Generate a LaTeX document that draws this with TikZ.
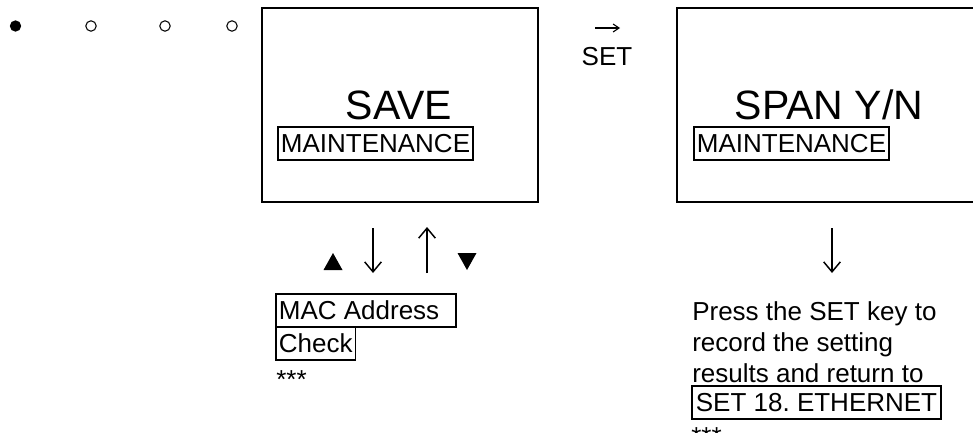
\documentclass[tikz,border=0pt]{standalone}
\usepackage{fontspec}
\setmainfont{Liberation Sans}
\usetikzlibrary{arrows.meta}
\frenchspacing
\newcommand\fsnorm{\fontsize{19.5pt}{23pt}\selectfont}
\newcommand\fsbig{\fontsize{30.75pt}{36pt}\selectfont}
\tikzset{
  screen/.style={draw, line width=1.6pt, minimum width=#1, minimum height=145.5pt, inner sep=0pt},
  tbox/.style={draw, line width=1.3pt, inner xsep=2.25pt, inner ysep=1.5pt,
    text height=17.6pt, text depth=4.1pt, font=\fsnorm, anchor=south west},
  plain/.style={inner sep=0pt, font=\fsnorm, anchor=base west},
  bigtxt/.style={inner sep=0pt, font=\fsbig, anchor=base},
  keyarrow/.style={line width=1pt, -{Straight Barb[length=7.5pt, width=12.5pt, line width=1.1pt]}},
  smallarrow/.style={line width=0.8pt, -{Straight Barb[length=4.5pt, width=6pt, line width=0.8pt]}},
  tri/.style={fill=black}
}
\begin{document}
\begin{tikzpicture}[x=0.75pt, y=-0.75pt]
\useasboundingbox (0,0) rectangle (973,432);
\clip (0,0) rectangle (973,432);
% progress dots
\node[circle, fill=black, minimum size=8.5pt, inner sep=0pt] (d1) at (15.5,26) {};
\node[circle, draw, line width=0.8pt, minimum size=7.8pt, inner sep=0pt] (d2) at (91,26) {};
\node[circle, draw, line width=0.8pt, minimum size=7.8pt, inner sep=0pt] (d3) at (165,26) {};
\node[circle, draw, line width=0.8pt, minimum size=7.8pt, inner sep=0pt] (d4) at (232,26) {};
% screen 1
\node[screen=207pt] (s1) at (400,105) {};
\node[bigtxt] (save) at (399,119) {SAVE};
\node[tbox] (m1) at (277,161) {MAINTENANCE};
% SET transition
\coordinate (ra) at (595,28);
\coordinate (rb) at (620,28);
\draw[smallarrow] (ra) -- (rb);
\node[inner sep=0pt, font=\fsnorm, anchor=base] (setl) at (607,65) {SET};
% screen 2
\node[screen=231pt] (s2) at (831,105) {};
\node[bigtxt] (span) at (829,119) {SPAN Y/N};
\node[tbox] (m2) at (693,161) {MAINTENANCE};
% arrows below screen 1
\coordinate (a1t) at (373,228);
\coordinate (a1b) at (373,273);
\coordinate (a2t) at (427,227);
\coordinate (a2b) at (427,273);
\draw[keyarrow] (a1t) -- (a1b);
\draw[keyarrow] (a2b) -- (a2t);
\fill[tri] (323.5,270) -- (342.5,270) -- (333,253) -- cycle;
\fill[tri] (457.5,253) -- (476.5,253) -- (467,270) -- cycle;
% next item
\node[tbox] (mac) at (275,328) {\makebox[130.5pt][l]{MAC Address}};
\node[tbox] (chk) at (275,361) {Check};
\node[plain] (st1) at (276,388) {***};
% arrow below screen 2
\coordinate (a3t) at (832,228);
\coordinate (a3b) at (832,273);
\draw[keyarrow] (a3t) -- (a3b);
% result text
\node[plain] (l1) at (692,320) {Press the SET key to};
\node[plain] (l2) at (692,351) {record the setting};
\node[plain] (l3) at (692,382) {results and return to};
\node[tbox, inner xsep=3pt] (eth) at (691,420) {SET 18. ETHERNET};
\node[plain] (st2) at (691,445) {***};
\end{tikzpicture}
\end{document}
